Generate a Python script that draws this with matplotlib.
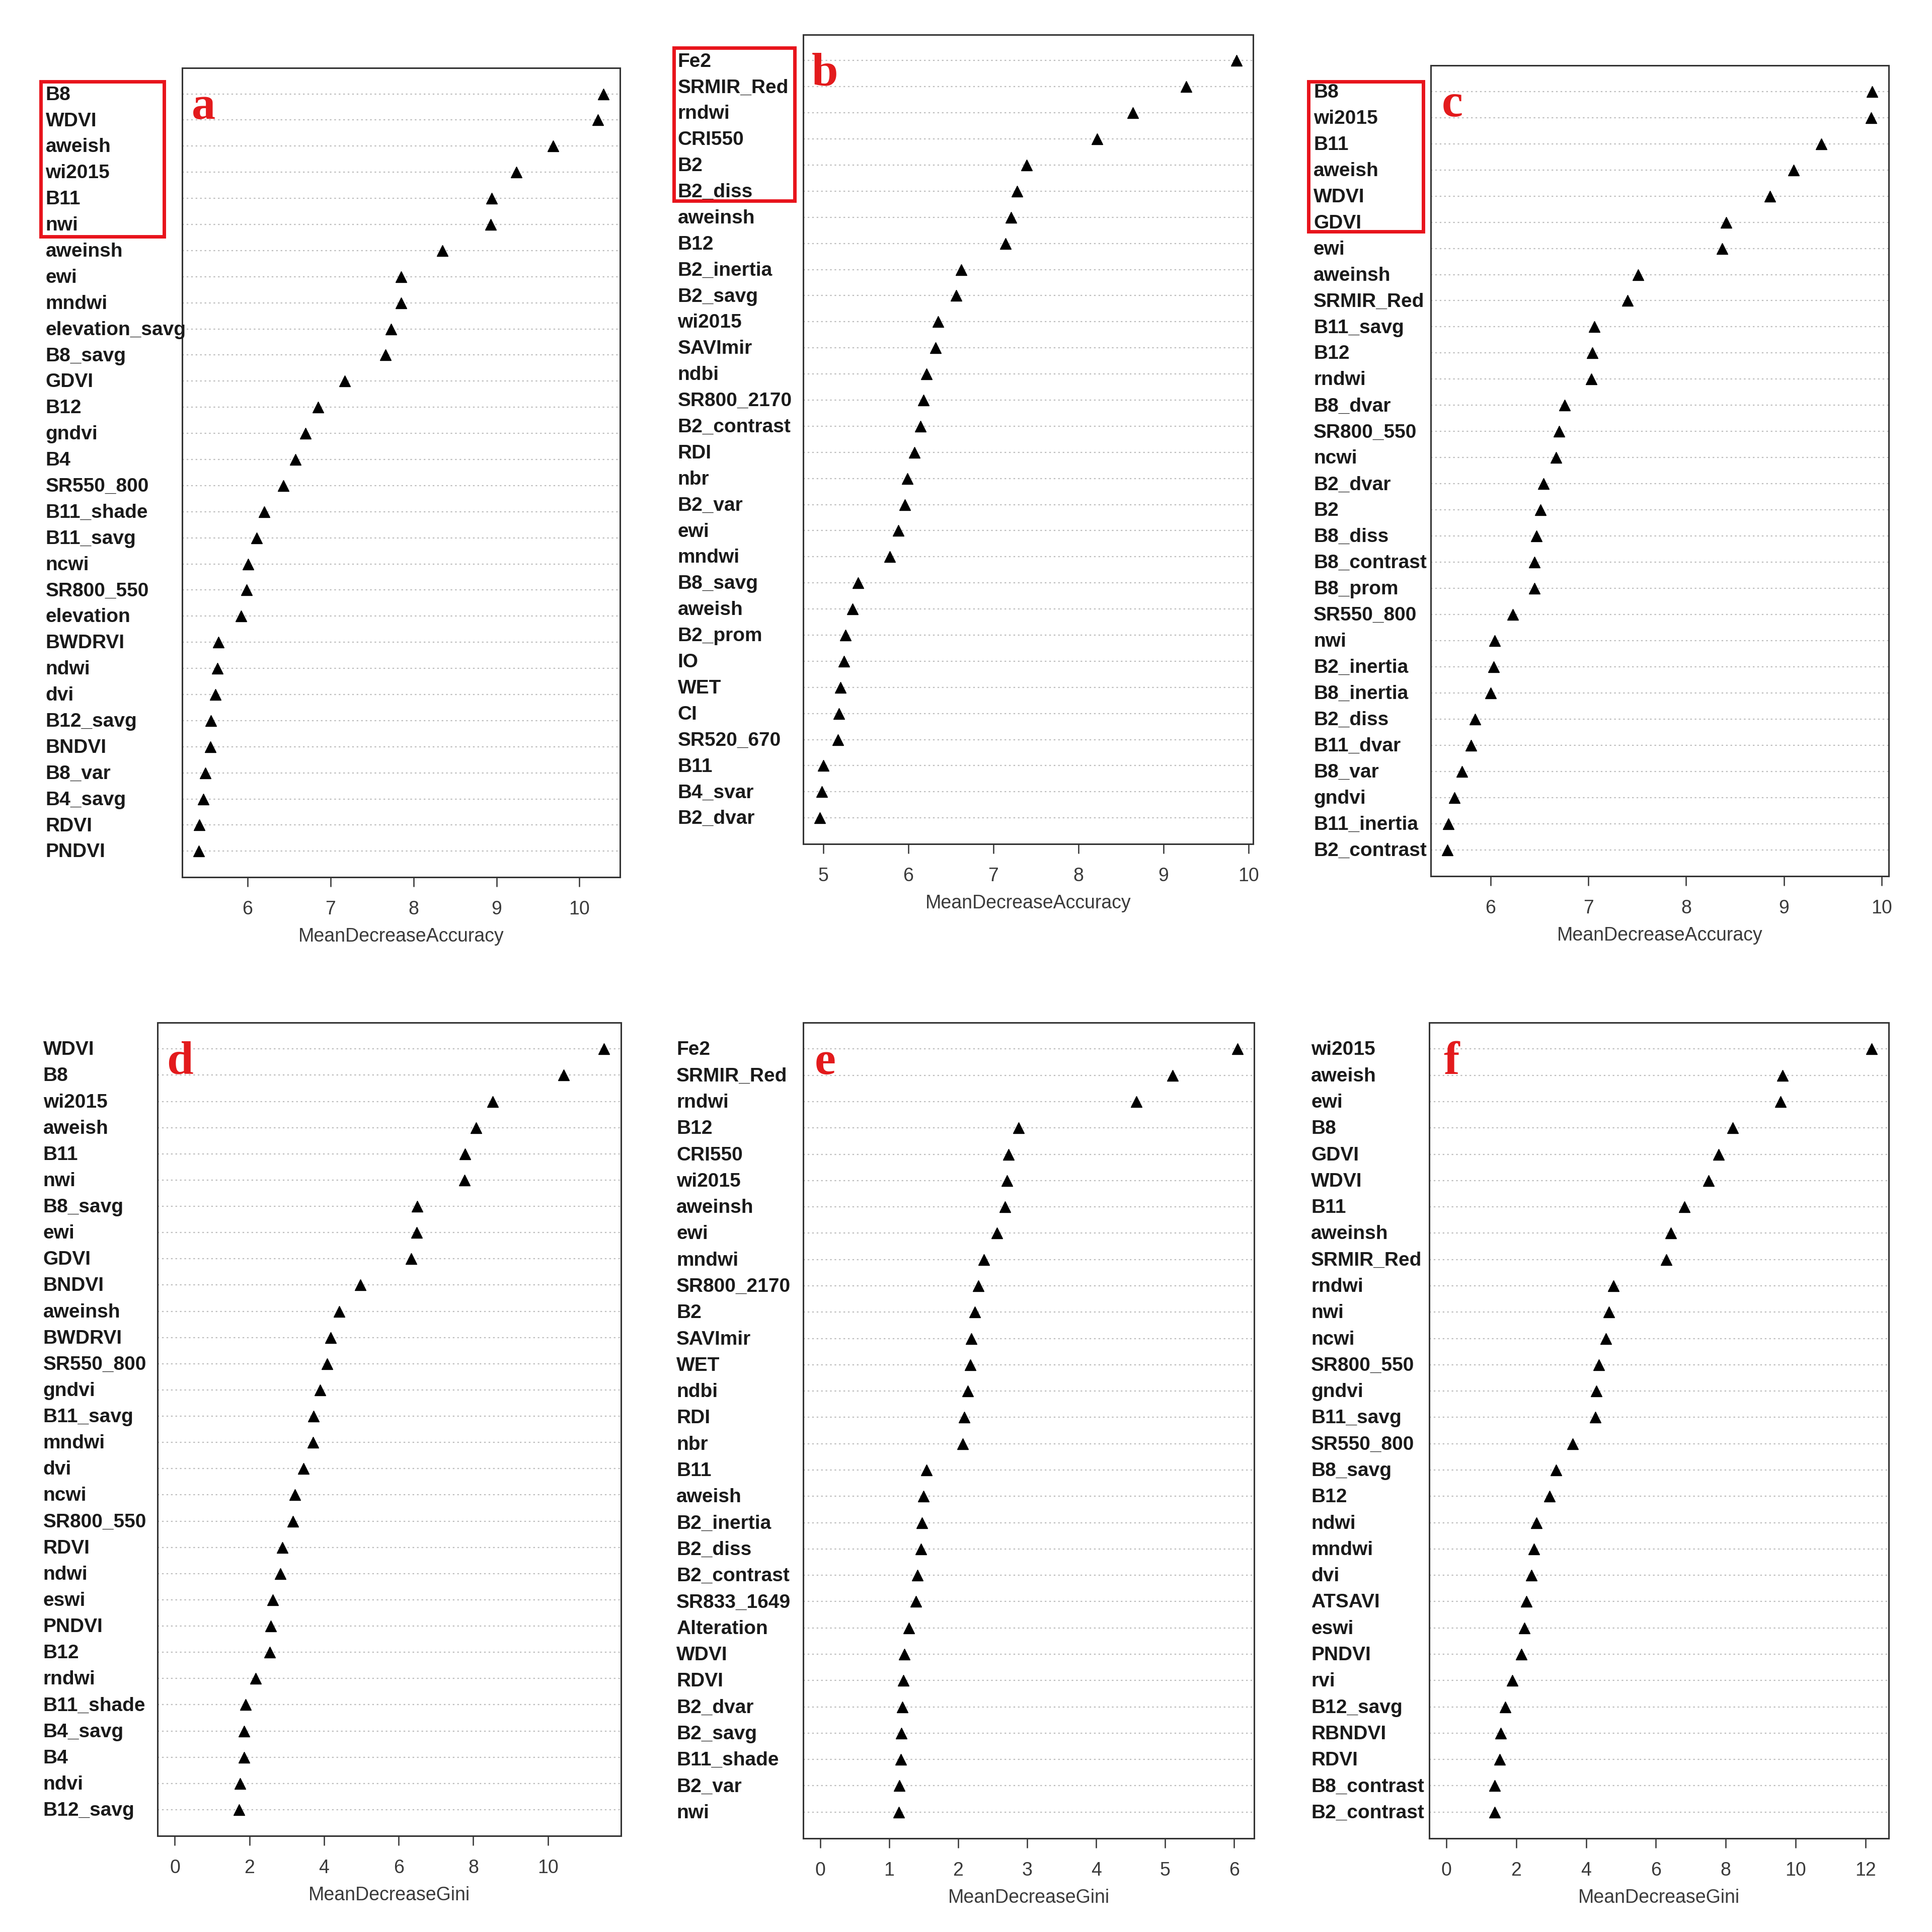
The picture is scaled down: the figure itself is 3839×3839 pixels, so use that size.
import numpy as np
import matplotlib
matplotlib.use('Agg')
import matplotlib.pyplot as plt
import matplotlib.transforms as mtransforms
from matplotlib.patches import Rectangle

plt.rcParams['font.family'] = ['Liberation Sans', 'DejaVu Sans']

# panel a - MeanDecreaseAccuracy
names_a = ['B8', 'WDVI', 'aweish', 'wi2015', 'B11', 'nwi', 'aweinsh', 'ewi', 'mndwi',
           'elevation_savg', 'B8_savg', 'GDVI', 'B12', 'gndvi', 'B4', 'SR550_800',
           'B11_shade', 'B11_savg', 'ncwi', 'SR800_550', 'elevation', 'BWDRVI', 'ndwi',
           'dvi', 'B12_savg', 'BNDVI', 'B8_var', 'B4_savg', 'RDVI', 'PNDVI']
vals_a = [10.29, 10.22, 9.68, 9.24, 8.94, 8.93, 8.35, 7.85, 7.85, 7.73, 7.66, 7.17, 6.85,
          6.70, 6.58, 6.43, 6.20, 6.11, 6.01, 5.99, 5.92, 5.65, 5.64, 5.61, 5.56, 5.55,
          5.49, 5.47, 5.42, 5.41]

# panel b - MeanDecreaseAccuracy
names_b = ['Fe2', 'SRMIR_Red', 'rndwi', 'CRI550', 'B2', 'B2_diss', 'aweinsh', 'B12',
           'B2_inertia', 'B2_savg', 'wi2015', 'SAVImir', 'ndbi', 'SR800_2170',
           'B2_contrast', 'RDI', 'nbr', 'B2_var', 'ewi', 'mndwi', 'B8_savg', 'aweish',
           'B2_prom', 'IO', 'WET', 'CI', 'SR520_670', 'B11', 'B4_svar', 'B2_dvar']
vals_b = [9.86, 9.27, 8.64, 8.22, 7.39, 7.28, 7.21, 7.14, 6.62, 6.56, 6.35, 6.32, 6.21,
          6.18, 6.14, 6.07, 5.99, 5.96, 5.88, 5.78, 5.41, 5.34, 5.26, 5.24, 5.20, 5.18,
          5.17, 5.00, 4.98, 4.96]

# panel c - MeanDecreaseAccuracy
names_c = ['B8', 'wi2015', 'B11', 'aweish', 'WDVI', 'GDVI', 'ewi', 'aweinsh', 'SRMIR_Red',
           'B11_savg', 'B12', 'rndwi', 'B8_dvar', 'SR800_550', 'ncwi', 'B2_dvar', 'B2',
           'B8_diss', 'B8_contrast', 'B8_prom', 'SR550_800', 'nwi', 'B2_inertia',
           'B8_inertia', 'B2_diss', 'B11_dvar', 'B8_var', 'gndvi', 'B11_inertia',
           'B2_contrast']
vals_c = [9.90, 9.89, 9.38, 9.10, 8.86, 8.41, 8.37, 7.51, 7.40, 7.06, 7.04, 7.03, 6.76,
          6.70, 6.67, 6.54, 6.51, 6.47, 6.45, 6.45, 6.23, 6.04, 6.03, 6.00, 5.84, 5.80,
          5.71, 5.63, 5.57, 5.56]

# panel d - MeanDecreaseGini
names_d = ['WDVI', 'B8', 'wi2015', 'aweish', 'B11', 'nwi', 'B8_savg', 'ewi', 'GDVI',
           'BNDVI', 'aweinsh', 'BWDRVI', 'SR550_800', 'gndvi', 'B11_savg', 'mndwi', 'dvi',
           'ncwi', 'SR800_550', 'RDVI', 'ndwi', 'eswi', 'PNDVI', 'B12', 'rndwi',
           'B11_shade', 'B4_savg', 'B4', 'ndvi', 'B12_savg']
vals_d = [11.50, 10.42, 8.52, 8.08, 7.78, 7.76, 6.50, 6.48, 6.34, 4.97, 4.40, 4.17, 4.08,
          3.89, 3.72, 3.70, 3.45, 3.22, 3.17, 2.88, 2.83, 2.63, 2.57, 2.54, 2.17, 1.89,
          1.86, 1.86, 1.75, 1.72]

# panel e - MeanDecreaseGini
names_e = ['Fe2', 'SRMIR_Red', 'rndwi', 'B12', 'CRI550', 'wi2015', 'aweinsh', 'ewi',
           'mndwi', 'SR800_2170', 'B2', 'SAVImir', 'WET', 'ndbi', 'RDI', 'nbr', 'B11',
           'aweish', 'B2_inertia', 'B2_diss', 'B2_contrast', 'SR833_1649', 'Alteration',
           'WDVI', 'RDVI', 'B2_dvar', 'B2_savg', 'B11_shade', 'B2_var', 'nwi']
vals_e = [6.05, 5.11, 4.58, 2.88, 2.73, 2.71, 2.68, 2.56, 2.37, 2.29, 2.24, 2.19, 2.18,
          2.14, 2.09, 2.07, 1.54, 1.50, 1.48, 1.46, 1.41, 1.39, 1.29, 1.22, 1.21, 1.19,
          1.18, 1.17, 1.15, 1.14]

# panel f - MeanDecreaseGini
names_f = ['wi2015', 'aweish', 'ewi', 'B8', 'GDVI', 'WDVI', 'B11', 'aweinsh', 'SRMIR_Red',
           'rndwi', 'nwi', 'ncwi', 'SR800_550', 'gndvi', 'B11_savg', 'SR550_800',
           'B8_savg', 'B12', 'ndwi', 'mndwi', 'dvi', 'ATSAVI', 'eswi', 'PNDVI', 'rvi',
           'B12_savg', 'RBNDVI', 'RDVI', 'B8_contrast', 'B2_contrast']
vals_f = [12.18, 9.63, 9.57, 8.20, 7.79, 7.51, 6.82, 6.42, 6.29, 4.79, 4.65, 4.57, 4.37,
          4.29, 4.26, 3.61, 3.14, 2.95, 2.58, 2.51, 2.43, 2.29, 2.23, 2.15, 1.89, 1.68,
          1.55, 1.53, 1.39, 1.39]

xlabels = ['MeanDecreaseAccuracy'] * 3 + ['MeanDecreaseGini'] * 3
letters = ['a', 'b', 'c', 'd', 'e', 'f']
ticks = [[6, 7, 8, 9, 10], [5, 6, 7, 8, 9, 10], [6, 7, 8, 9, 10],
         [0, 2, 4, 6, 8, 10], [0, 1, 2, 3, 4, 5, 6], [0, 2, 4, 6, 8, 10, 12]]

# layout in 1568px preview units: axes [left, right, top, bottom], label x
S = 1568.0
boxes = [(148, 503, 55, 712), (652, 1017, 28, 685), (1161, 1533, 53, 711),
         (128, 504, 830, 1490), (652, 1018, 830, 1492), (1160, 1533, 830, 1492)]
label_x = [37, 550, 1066, 35, 549, 1064]
# red highlight boxes (left, right, top, bottom)
red_boxes = [(33, 133, 66, 192), (547, 645, 39, 163), (1062, 1155, 66, 188)]

panels = [(names_a, vals_a), (names_b, vals_b), (names_c, vals_c),
          (names_d, vals_d), (names_e, vals_e), (names_f, vals_f)]

fig = plt.figure(figsize=(38.39, 38.39), dpi=100)
fig.patch.set_facecolor('white')

for k, (names, vals) in enumerate(panels):
    l, r, t, b = boxes[k]
    ax = fig.add_axes([l / S, 1 - b / S, (r - l) / S, (b - t) / S])
    n = len(vals)
    y = n - np.arange(n)

    # dotchart style x range (Gini starts at 0)
    lo = 0 if k >= 3 else min(vals)
    hi = max(vals)
    pad = 0.04 * (hi - lo)
    ax.set_xlim(lo - pad, hi + pad)
    ax.set_ylim(0.0, n + 1)

    for yy in y:
        ax.axhline(yy, ls=(0, (1.5, 2.5)), color='#bdbdbd', lw=1.6, zorder=1)
    ax.plot(vals, y, '^', color='black', ms=16, zorder=3)

    ax.set_yticks([])
    ax.set_xticks(ticks[k])
    ax.tick_params(axis='x', length=14, width=1.8, color='#333333', labelsize=27,
                   labelcolor='#3a3a3a', pad=19)
    ax.set_xlabel(xlabels[k], fontsize=27, color='#3a3a3a', labelpad=13)
    for sp in ax.spines.values():
        sp.set_color('#333333')
        sp.set_linewidth(2.2)

    tr = mtransforms.blended_transform_factory(fig.transFigure, ax.transData)
    for name, yy in zip(names, y):
        ax.text(label_x[k] / S, yy - 0.04, name, transform=tr, ha='left', va='center',
                fontsize=28, fontweight='bold', color='#1a1a1a', clip_on=False)

    ax.text(0.048, 0.951, letters[k], transform=ax.transAxes, ha='center', va='center',
            fontsize=68, fontweight='bold', color='#e31a1c',
            family=['Liberation Serif', 'DejaVu Serif'])

for l, r, t, b in red_boxes:
    fig.patches.append(Rectangle((l / S, 1 - b / S), (r - l) / S, (b - t) / S,
                                 transform=fig.transFigure, fill=False,
                                 edgecolor='#e8141c', lw=5))

fig.savefig('out.png', dpi=100, facecolor='white')
